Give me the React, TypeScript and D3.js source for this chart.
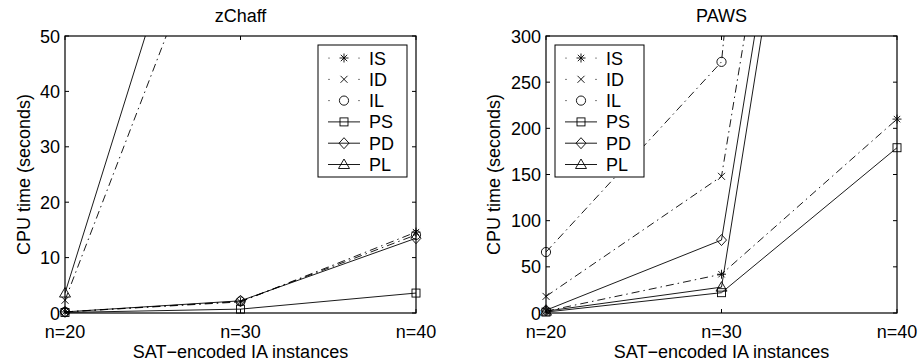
import React from "react";
import * as d3 from "d3";

const categories = ["n=20", "n=30", "n=40"];
const seriesNames = ["IS", "ID", "IL", "PS", "PD", "PL"];

// zChaff (seconds)
const zchaffIS = [0.2, 2.0, 14.6];
const zchaffID = [2.3, 85, 300];
const zchaffIL = [0.2, 2.1, 14.1];
const zchaffPS = [0.1, 0.7, 3.6];
const zchaffPD = [0.2, 2.2, 13.5];
const zchaffPL = [3.6, 105, 400];

// PAWS (seconds)
const pawsIS = [2, 42, 210];
const pawsID = [18, 148, 1300];
const pawsIL = [66, 272, 2200];
const pawsPS = [1, 22, 179];
const pawsPD = [3, 79, 1250];
const pawsPL = [2, 28, 1220];

const zchaffTicks = [0, 10, 20, 30, 40, 50];
const pawsTicks = [0, 50, 100, 150, 200, 250, 300];

const FONT = "'Liberation Sans', Arial, Helvetica, sans-serif";
const FS = 18;
const DASHDOT = "8,4,1.5,4";

type MarkerKind = "star" | "x" | "circle" | "square" | "diamond" | "triangle";
const markers: MarkerKind[] = ["star", "x", "circle", "square", "diamond", "triangle"];
const dashed = [true, true, true, false, false, false];

function Marker({ kind, cx, cy }: { kind: MarkerKind; cx: number; cy: number }) {
  const s = { stroke: "#000", strokeWidth: 0.9, fill: "none" } as const;
  switch (kind) {
    case "star": {
      const a = 4.5, b = 3.2;
      return (
        <path
          {...s}
          d={`M${cx - a},${cy}H${cx + a}M${cx},${cy - a}V${cy + a}M${cx - b},${cy - b}L${cx + b},${cy + b}M${cx - b},${cy + b}L${cx + b},${cy - b}`}
        />
      );
    }
    case "x": {
      const b = 3.5;
      return <path {...s} d={`M${cx - b},${cy - b}L${cx + b},${cy + b}M${cx - b},${cy + b}L${cx + b},${cy - b}`} />;
    }
    case "circle":
      return <circle {...s} cx={cx} cy={cy} r={4.6} />;
    case "square":
      return <rect {...s} x={cx - 4} y={cy - 4} width={8} height={8} />;
    case "diamond":
      return <path {...s} d={`M${cx},${cy - 5.5}L${cx + 5},${cy}L${cx},${cy + 5.5}L${cx - 5},${cy}Z`} />;
    case "triangle":
      return <path {...s} d={`M${cx},${cy - 5.5}L${cx + 5.5},${cy + 4}L${cx - 5.5},${cy + 4}Z`} />;
  }
}

interface ChartProps {
  id: string;
  title: string;
  x0: number;
  x1: number;
  series: number[][];
  ticks: number[];
  legendSide: "left" | "right";
  labelOffset: number;
}

const Y0 = 36;
const Y1 = 313;

function Chart({ id, title, x0, x1, series, ticks, legendSide, labelOffset }: ChartProps) {
  const x = d3.scalePoint<string>().domain(categories).range([x0, x1]);
  const yMax = ticks[ticks.length - 1];
  const y = d3.scaleLinear().domain([0, yMax]).range([Y1, Y0]);
  const line = d3
    .line<number>()
    .x((_, i) => x(categories[i]) as number)
    .y((d) => y(d));
  const tl = 4;
  const lw = 89;
  const lx = legendSide === "left" ? x0 + 9 : x1 - 9 - lw;
  const ly = 45;
  const rowH = 21.3;
  return (
    <g>
      <defs>
        <clipPath id={id}>
          <rect x={x0} y={Y0} width={x1 - x0} height={Y1 - Y0} />
        </clipPath>
      </defs>
      <text x={(x0 + x1) / 2} y={22} textAnchor="middle" fontFamily={FONT} fontSize={FS}>
        {title}
      </text>
      {/* ticks */}
      {ticks.map((t) => (
        <g key={t}>
          <line x1={x0} x2={x0 + tl} y1={y(t)} y2={y(t)} stroke="#000" strokeWidth={1} />
          <line x1={x1} x2={x1 - tl} y1={y(t)} y2={y(t)} stroke="#000" strokeWidth={1} />
          <text x={x0 - 5} y={y(t) + 6.5} textAnchor="end" fontFamily={FONT} fontSize={FS}>
            {t}
          </text>
        </g>
      ))}
      {categories.map((c) => (
        <g key={c}>
          <line x1={x(c)} x2={x(c)} y1={Y1} y2={Y1 - tl} stroke="#000" strokeWidth={1} />
          <line x1={x(c)} x2={x(c)} y1={Y0} y2={Y0 + tl} stroke="#000" strokeWidth={1} />
          <text x={x(c)} y={338} textAnchor="middle" fontFamily={FONT} fontSize={FS}>
            {c}
          </text>
        </g>
      ))}
      {/* lines */}
      <g clipPath={`url(#${id})`}>
        {series.map((vals, i) => (
          <path
            key={i}
            d={line(vals) || ""}
            fill="none"
            stroke="#000"
            strokeWidth={0.9}
            strokeDasharray={dashed[i] ? DASHDOT : undefined}
          />
        ))}
      </g>
      {/* markers */}
      {series.map((vals, i) =>
        vals.map((v, j) =>
          v <= yMax ? <Marker key={`${i}-${j}`} kind={markers[i]} cx={x(categories[j]) as number} cy={y(v)} /> : null
        )
      )}
      {/* axes box */}
      <rect x={x0} y={Y0} width={x1 - x0} height={Y1 - Y0} fill="none" stroke="#000" strokeWidth={1.2} />
      {/* axis labels */}
      <text x={(x0 + x1) / 2} y={358} textAnchor="middle" fontFamily={FONT} fontSize={FS}>
        SAT−encoded IA instances
      </text>
      <text
        transform={`translate(${x0 - labelOffset},${(Y0 + Y1) / 2}) rotate(-90)`}
        textAnchor="middle"
        fontFamily={FONT}
        fontSize={FS}
      >
        CPU time (seconds)
      </text>
      {/* legend */}
      <rect x={lx} y={ly} width={lw} height={132} fill="#fff" stroke="#000" strokeWidth={1} />
      {seriesNames.map((n, i) => {
        const cy = ly + 13 + i * rowH;
        return (
          <g key={n}>
            {dashed[i] ? (
              <g>
                <circle cx={lx + 11} cy={cy} r={0.6} fill="#000" />
                <circle cx={lx + 41} cy={cy} r={0.6} fill="#000" />
              </g>
            ) : (
              <line x1={lx + 10} x2={lx + 42} y1={cy} y2={cy} stroke="#000" strokeWidth={0.9} />
            )}
            <Marker kind={markers[i]} cx={lx + 26} cy={cy} />
            <text x={lx + 51} y={cy + 6.5} fontFamily={FONT} fontSize={FS}>
              {n}
            </text>
          </g>
        );
      })}
    </g>
  );
}

export default function App() {
  const zSeries = [zchaffIS, zchaffID, zchaffIL, zchaffPS, zchaffPD, zchaffPL];
  const pSeries = [pawsIS, pawsID, pawsIL, pawsPS, pawsPD, pawsPL];
  return (
    <svg
      width={920}
      height={363}
      style={{ position: "absolute", left: 0, top: 0, background: "#fff" }}
    >
      <rect width={920} height={363} fill="#fff" />
      <Chart id="clipZ" title="zChaff" x0={65} x1={416} series={zSeries} ticks={zchaffTicks} legendSide="right" labelOffset={35} />
      <Chart id="clipP" title="PAWS" x0={546} x1={897} series={pSeries} ticks={pawsTicks} legendSide="left" labelOffset={46} />
    </svg>
  );
}
